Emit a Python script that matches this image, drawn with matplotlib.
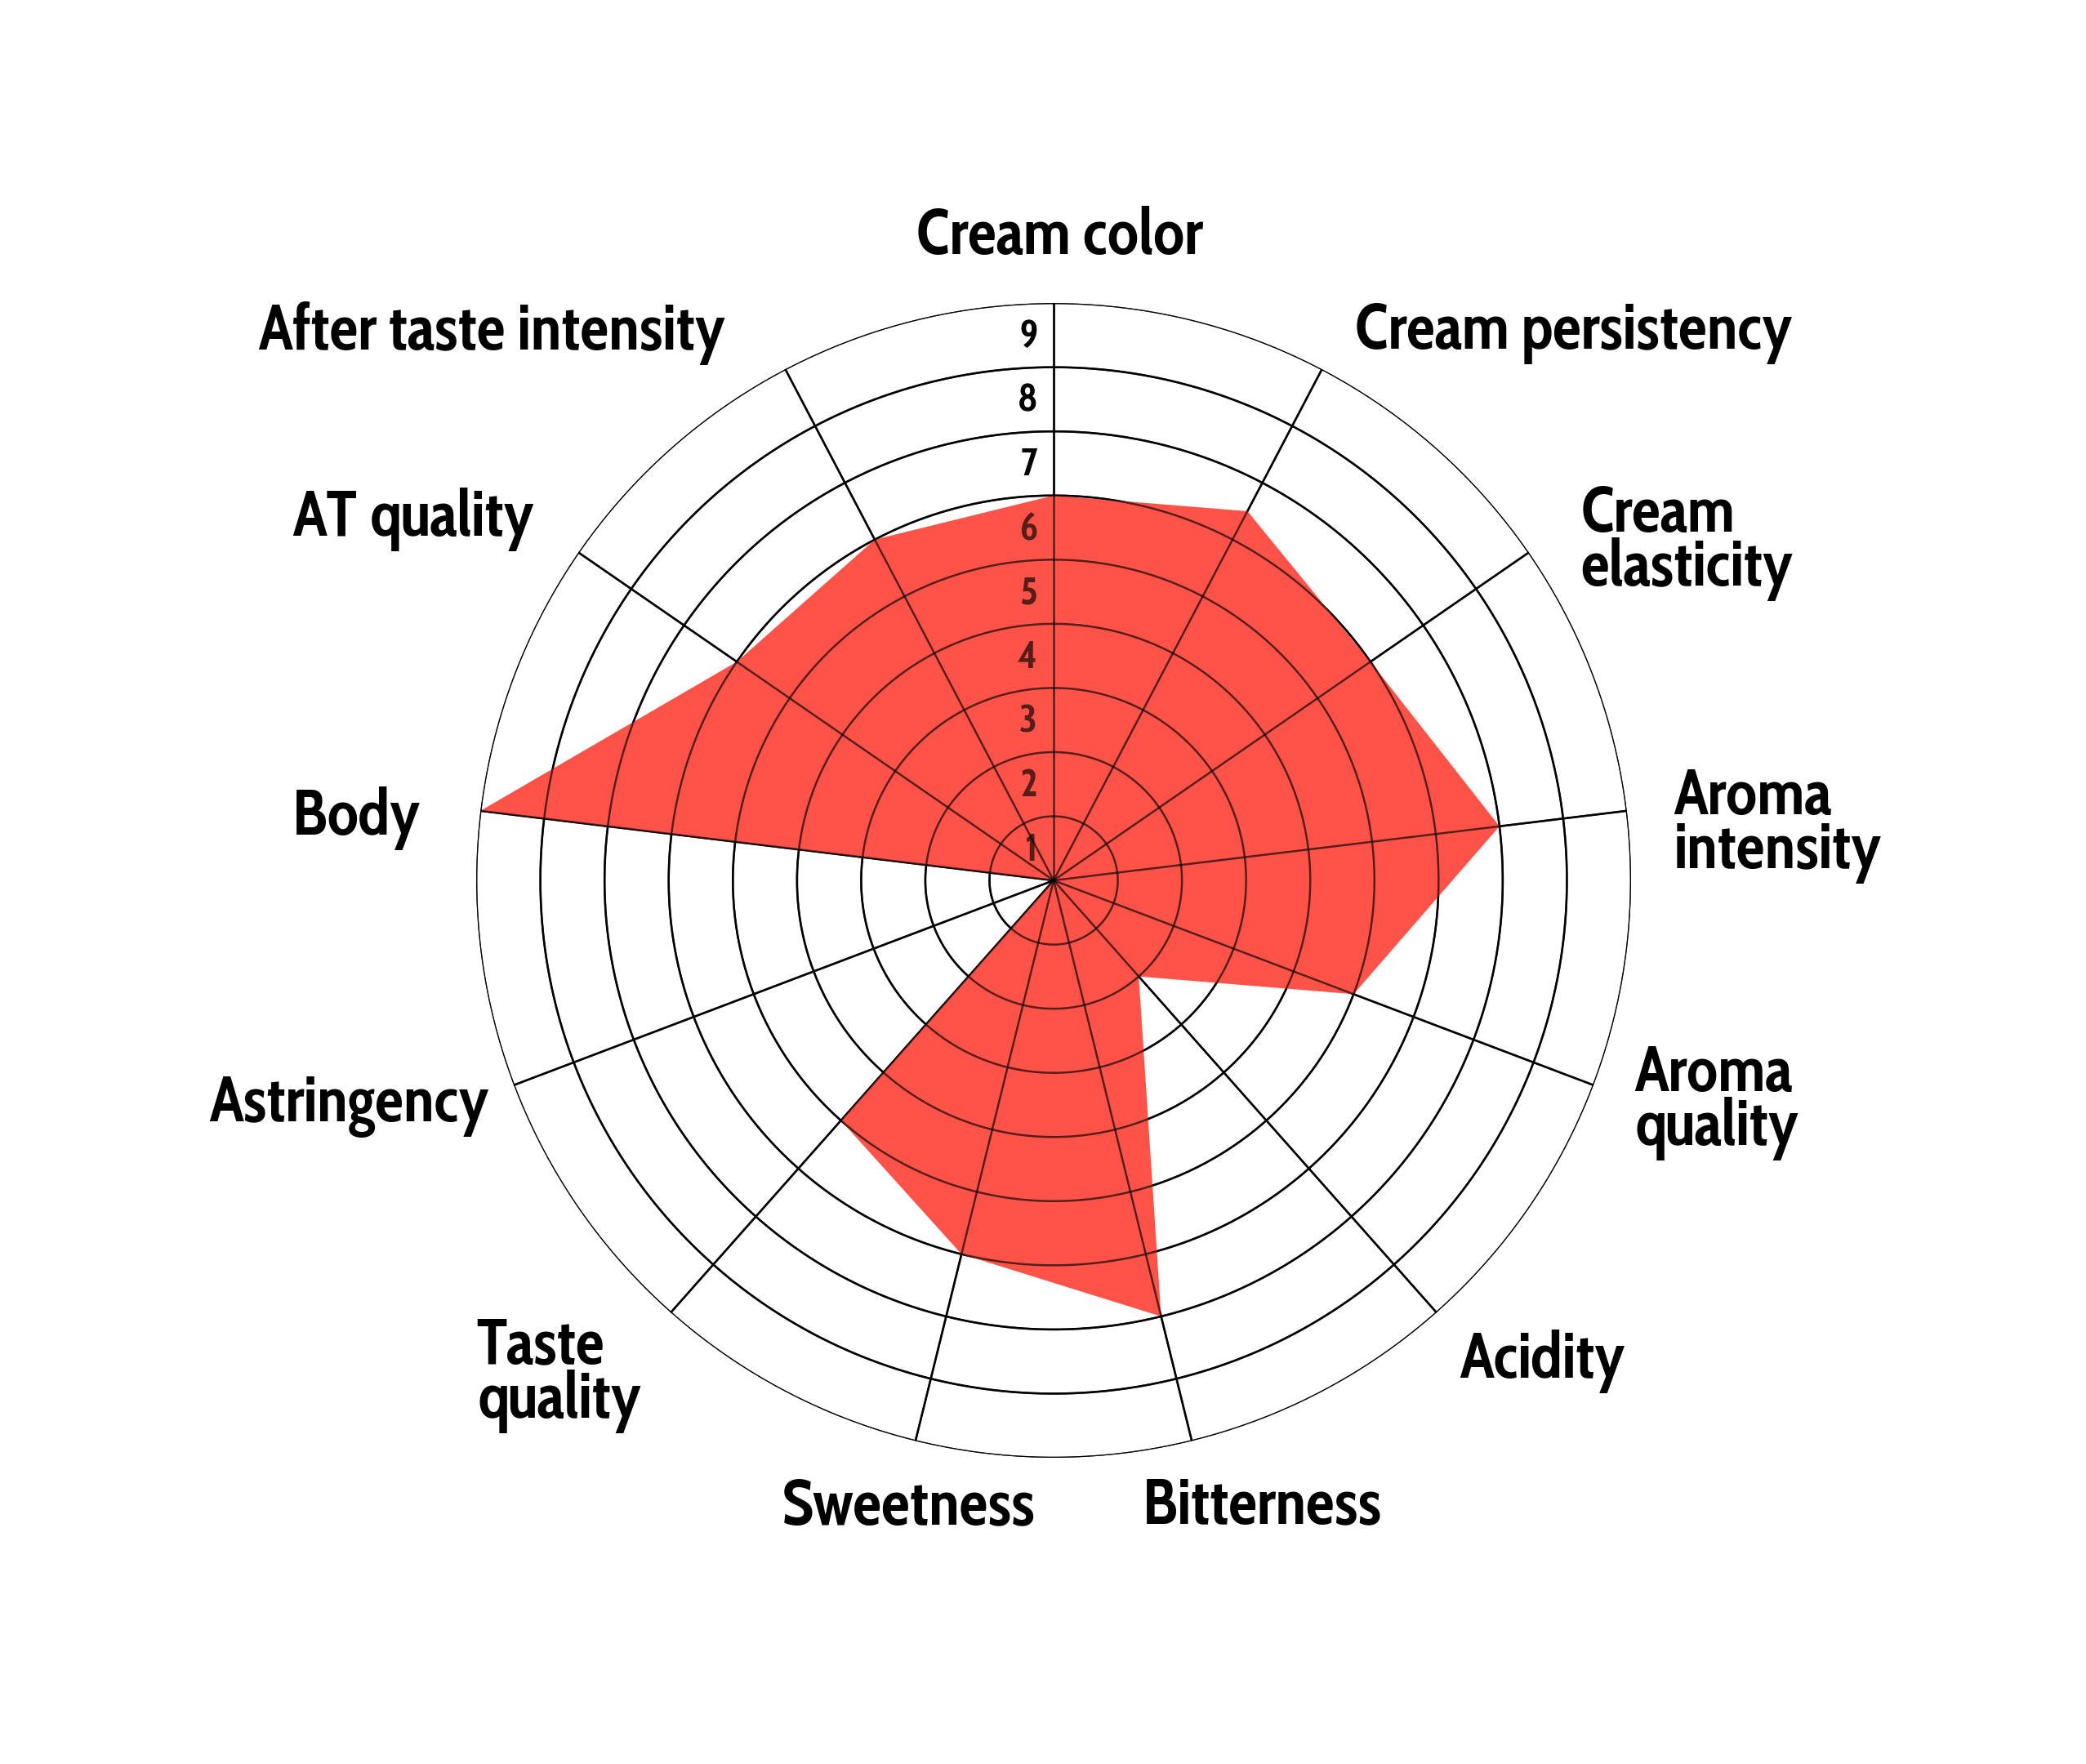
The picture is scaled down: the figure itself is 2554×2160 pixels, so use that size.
import numpy as np
import matplotlib
matplotlib.use("Agg")
import matplotlib.pyplot as plt
from matplotlib.transforms import offset_copy

# Data
categories = ["Cream color", "Cream persistency", "Cream\nelasticity", "Aroma\nintensity",
              "Aroma\nquality", "Acidity", "Bitterness", "Sweetness", "Taste\nquality",
              "Astringency", "Body", "AT quality", "After taste intensity"]
scores = [6, 6.5, 6, 7, 5, 2, 7, 6, 5, 0, 9, 6, 6]
rings = [1, 2, 3, 4, 5, 6, 7, 8, 9]

# Label placement (angle in degrees from north, clockwise; radius; alignment)
label_pos = [(0.5, 10.08, "center"), (28.6, 9.8, "left"), (57.0, 9.8, "left"),
             (84.5, 9.71, "left"), (110.5, 9.66, "left"), (139.6, 9.76, "left"),
             (161.45, 10.24, "center"), (193.1, 9.97, "center"), (229.7, 11.8, "left"),
             (248.6, 9.45, "right"), (276.0, 9.91, "right"), (305.1, 9.89, "right"),
             (329.2, 10.0, "right")]

FILL = "#FF534A"
FONT = ["Cabin Condensed", "DejaVu Sans"]

fig = plt.figure(figsize=(25.54, 21.6), dpi=100)
ax = fig.add_axes([0.2283, 0.1736, 0.5536, 0.6546], projection="polar")
ax.set_theta_zero_location("N")
ax.set_theta_direction(-1)
ax.set_ylim(0, 9)
ax.grid(False)
ax.set_xticks([])
ax.set_yticks([])
ax.spines["polar"].set_visible(False)

n = len(categories)
angles = np.arange(n) * 2 * np.pi / n
circle = np.linspace(0, 2 * np.pi, 400)


def draw_grid(color, alpha, z):
    for r in rings:
        ax.plot(circle, np.full_like(circle, r), color=color, lw=1.8, alpha=alpha, zorder=z)
    for a in angles:
        ax.plot([a, a], [0, rings[-1]], color=color, lw=1.8, alpha=alpha, zorder=z)
    tr = offset_copy(ax.transData, fig=fig, x=-20, y=-3, units="dots")
    for r in rings:
        ax.text(0, r - 0.5, str(r), transform=tr, ha="right", va="center",
                fontsize=34, fontweight="bold", family=FONT, color=color, alpha=alpha, zorder=z)


# black grid under the fill, darkened copy on top
draw_grid("black", 1.0, 1)
closed_a = np.append(angles, angles[0])
closed_v = np.append(scores, scores[0])
ax.fill(closed_a, closed_v, color=FILL, lw=0, zorder=2)
draw_grid("black", 0.65, 3)

label_tr = offset_copy(ax.transData, fig=fig, x=0, y=-5, units="dots")
for name, (deg, r, ha) in zip(categories, label_pos):
    ax.text(np.deg2rad(deg), r, name, transform=label_tr, ha=ha, va="center", fontsize=56,
            fontweight="bold", family=FONT, linespacing=0.8, zorder=4)

fig.savefig("out.png", dpi=100, facecolor="white")
